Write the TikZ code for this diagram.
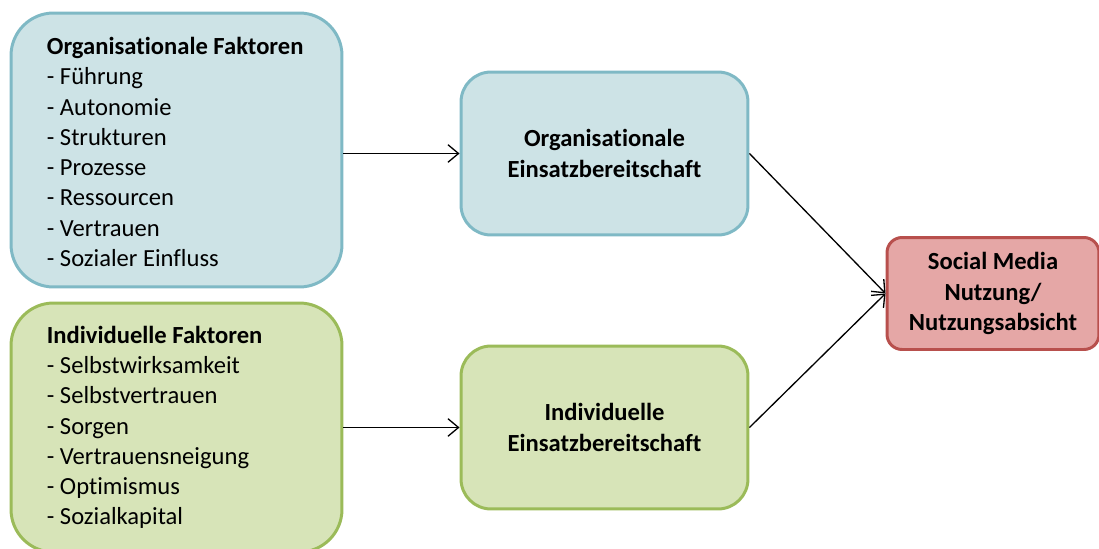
\documentclass[tikz,border=0pt]{standalone}
\usepackage{fontspec}
\setmainfont{Carlito}[Ligatures=NoCommon]
\usetikzlibrary{arrows.meta}
\definecolor{tealfill}{HTML}{CDE3E6}
\definecolor{tealline}{HTML}{7FB9C5}
\definecolor{greenfill}{HTML}{D7E4B8}
\definecolor{greenline}{HTML}{9BBB59}
\definecolor{redfill}{HTML}{E5A7A6}
\definecolor{redline}{HTML}{B8504D}
\tikzset{
  box/.style={draw, line width=1.7pt, inner sep=0pt, font=\fontsize{14}{17.2}\selectfont},
  bigbox/.style={box, minimum width=6.62cm, rounded corners=0.85cm},
  listtext/.style={anchor=west, align=left, inner sep=0pt, font=\fontsize{14}{17.2}\selectfont},
  midbox/.style={box, minimum width=5.74cm, minimum height=3.26cm, align=center, rounded corners=0.6cm, font=\fontsize{14}{17.2}\selectfont\bfseries},
  orgstyle/.style={fill=tealfill, draw=tealline},
  indstyle/.style={fill=greenfill, draw=greenline},
  conn/.style={draw=black, line width=0.75pt, -{Straight Barb[length=6pt,width=10pt,line width=0.75pt]}}
}
\begin{document}
\begin{tikzpicture}[x=0.02cm,y=-0.02cm]
\useasboundingbox (0,0) rectangle (1099,548);
\node[bigbox, orgstyle, minimum height=5.48cm] (b1) at (176.5,150) {};
\node[listtext] (t1) at ([xshift=0.74cm,yshift=-0.04cm]b1.west)
  {\textbf{Organisationale Faktoren}\\
   - Führung\\
   - Autonomie\\
   - Strukturen\\
   - Prozesse\\
   - Ressourcen\\
   - Vertrauen\\
   - Sozialer Einfluss};
\node[bigbox, indstyle, minimum height=4.98cm] (b2) at (176.5,427.5) {};
\node[listtext] (t2) at ([xshift=0.74cm]b2.west)
  {\textbf{Individuelle Faktoren}\\
   - Selbstwirksamkeit\\
   - Selbstvertrauen\\
   - Sorgen\\
   - Vertrauensneigung\\
   - Optimismus\\
   - Sozialkapital};
\node[midbox, orgstyle] (b3) at (604.5,153.5) {Organisationale\\Einsatzbereitschaft};
\node[midbox, indstyle] (b4) at (604.5,427.5) {Individuelle\\Einsatzbereitschaft};
\node[box, fill=redfill, draw=redline, minimum width=4.24cm, minimum height=2.24cm, align=center, rounded corners=0.3cm, font=\fontsize{14}{17.4}\selectfont\bfseries] (b5) at (993,293.5)
  {Social Media\\Nutzung/\\Nutzungsabsicht};
\draw[conn] (b1.east |- b3.west) -- (b3.west);
\draw[conn] (b2.east |- b4.west) -- (b4.west);
\draw[conn] (b3.east) -- (b5.west);
\draw[conn] (b4.east) -- (b5.west);
\end{tikzpicture}
\end{document}
